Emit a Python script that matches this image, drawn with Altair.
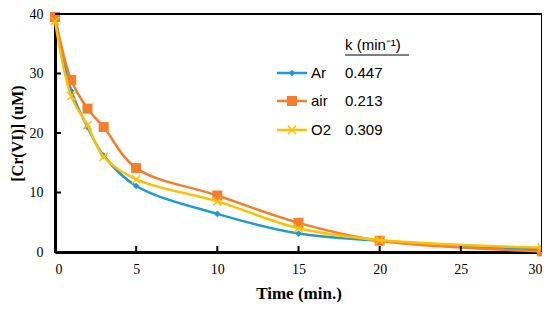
import altair as alt
import pandas as pd

times = [0, 1, 2, 3, 5, 10, 15, 20, 30]
ar = [39.5, 27.1, 21.0, 16.2, 11.1, 6.4, 3.1, 1.9, 0.4]
air = [39.5, 28.9, 24.1, 21.0, 14.1, 9.5, 4.9, 1.9, 0.1]
o2 = [38.8, 26.2, 21.3, 16.0, 12.2, 8.5, 4.0, 2.0, 0.7]

series = ["Ar", "air", "O2"]
k_values = ["0.447", "0.213", "0.309"]
colors = ["#1F9AD6", "#F57E2E", "#FFC000"]
x_ticks = [0, 5, 10, 15, 20, 25, 30]
y_ticks = [0, 10, 20, 30, 40]

rows = []
for name, vals in zip(series, [ar, air, o2]):
    for t, v in zip(times, vals):
        rows.append({"t": t, "c": v, "s": name})
df = pd.DataFrame(rows)

H = 238
xs = alt.Scale(domain=[0, 30], nice=False)
ys = alt.Scale(domain=[0, 40], nice=False)
x_axis = alt.Axis(values=x_ticks, title="Time (min.)", ticks=False,
                  labelFont="Liberation Serif", labelFontSize=14, labelColor="black",
                  titleFont="Liberation Serif", titleFontSize=17, titleFontWeight="bold",
                  titleColor="black", labelPadding=10, titlePadding=9, grid=False,
                  domainColor="black", domainWidth=3)
y_axis = alt.Axis(values=y_ticks, title="[Cr(VI)] (uM)", ticks=False,
                  labelFont="Liberation Serif", labelFontSize=14, labelColor="black",
                  titleFont="Liberation Serif", titleFontSize=16, titleFontWeight="bold",
                  titleColor="black", labelPadding=12, titlePadding=4, grid=False,
                  domainColor="black", domainWidth=3)
X = alt.X("t:Q", scale=xs, axis=x_axis)
Y = alt.Y("c:Q", scale=ys, axis=y_axis)

layers = []
shapes = ["diamond", "square", "M-1,-1L1,1M-1,1L1,-1"]
sizes = [45, 100, 70]
for name, col, shp, sz in zip(series, colors, shapes, sizes):
    sub = df[df.s == name]
    base = alt.Chart(sub)
    layers.append(base.mark_line(color=col, strokeWidth=2.5, interpolate="catmull-rom").encode(x=X, y=Y))
    if shp.startswith("M"):
        layers.append(base.mark_point(shape=shp, color=col, filled=False, size=sz, strokeWidth=1.5,
                                      opacity=1).encode(x=X, y=Y))
    else:
        layers.append(base.mark_point(shape=shp, color=col, filled=True, size=sz, opacity=1).encode(x=X, y=Y))

# inside ticks
xt = alt.Chart(pd.DataFrame({"t": x_ticks})).mark_rule(color="black", strokeWidth=2).encode(
    x=X, y=alt.value(H - 6), y2=alt.value(H))
yt = alt.Chart(pd.DataFrame({"c": y_ticks})).mark_rule(color="black", strokeWidth=2).encode(
    y=Y, x=alt.value(0), x2=alt.value(6))
layers += [xt, yt]

# custom legend
leg_y = [59, 87, 116]
for name, col, shp, sz, k, ly in zip(series, colors, shapes, sizes, k_values, leg_y):
    d = pd.DataFrame({"s": [name], "k": [k]})
    b = alt.Chart(d)
    layers.append(b.mark_rule(color=col, strokeWidth=2.5).encode(x=alt.value(222), x2=alt.value(252), y=alt.value(ly)))
    if shp.startswith("M"):
        layers.append(b.mark_point(shape=shp, color=col, filled=False, size=sz, strokeWidth=1.5, opacity=1).encode(
            x=alt.value(237), y=alt.value(ly)))
    else:
        layers.append(b.mark_point(shape=shp, color=col, filled=True, size=sz, opacity=1).encode(
            x=alt.value(237), y=alt.value(ly)))
    layers.append(b.mark_text(align="left", baseline="middle", font="Liberation Sans", fontSize=15, color="black").encode(
        x=alt.value(256), y=alt.value(ly), text="s:N"))
    layers.append(b.mark_text(align="left", baseline="middle", font="Liberation Sans", fontSize=15, color="black").encode(
        x=alt.value(290), y=alt.value(ly), text="k:N"))

title_df = pd.DataFrame({"txt": ["k (min⁻¹)"]})
layers.append(alt.Chart(title_df).mark_text(align="left", baseline="middle", font="Liberation Sans", fontSize=15,
                                            color="black").encode(x=alt.value(290), y=alt.value(31), text="txt:N"))
layers.append(alt.Chart(title_df).mark_rule(color="black", strokeWidth=1).encode(
    x=alt.value(290), x2=alt.value(354), y=alt.value(41)))

chart = alt.layer(*layers).properties(
    width=487, height=H,
    background="white",
    autosize=alt.AutoSizeParams(type="none"),
    padding={"left": 47, "top": 6, "right": 0, "bottom": 54},
).configure_view(stroke="black", strokeWidth=2)

chart.save("out.html", embed_options={"renderer": "svg", "actions": False})
